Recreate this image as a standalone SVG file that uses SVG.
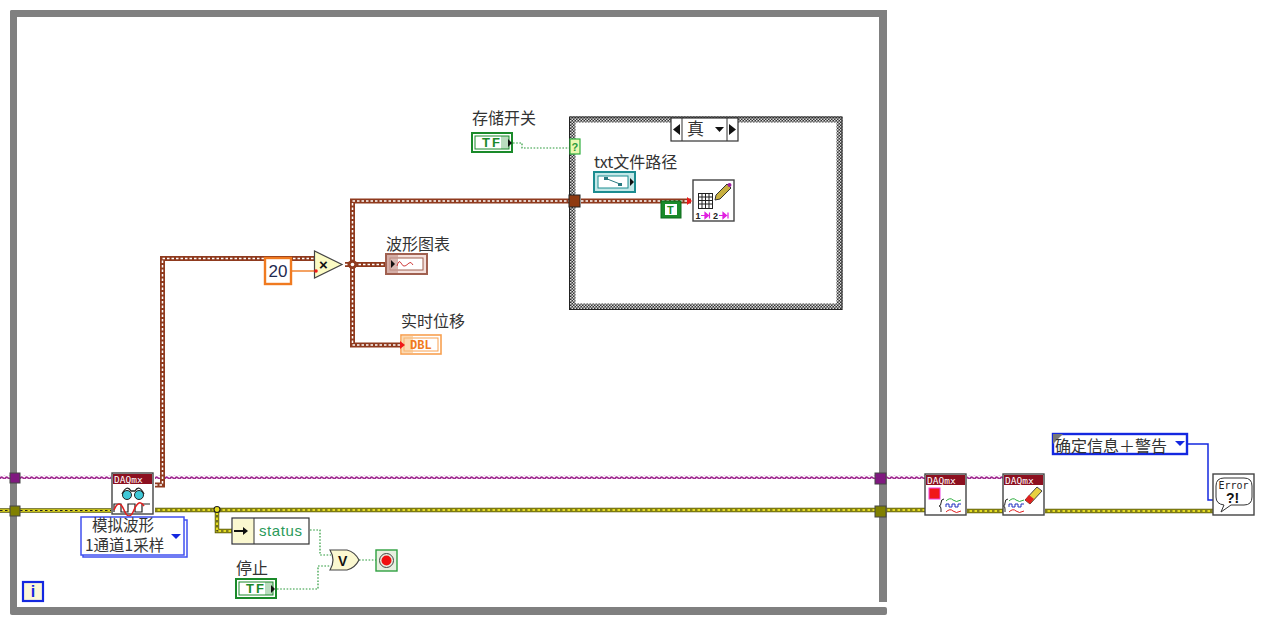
<svg xmlns="http://www.w3.org/2000/svg" width="1268" height="626" viewBox="0 0 1268 626">
<style>
text{font-family:"Noto Sans CJK SC","Liberation Sans",sans-serif;font-size:16px;fill:#333}
.w{fill:none}
.br1{stroke:#8f3a1e;stroke-width:5}
.br2{stroke:#fff;stroke-width:1.500;stroke-dasharray:2.500 2}
.ye1{stroke:#5a5a08;stroke-width:4.500}
.ye0{stroke:#e4dc20;stroke-width:2.600}
.ye2{stroke:#222;stroke-width:1.200;stroke-dasharray:2.500 2.500}
.gr{stroke:#2a9a3a;stroke-width:1.200;stroke-dasharray:1.600 1.600;fill:none}
.or{stroke:#f07a20;stroke-width:1.400;fill:none}
.bl{stroke:#1428e0;stroke-width:1.500;fill:none}
.ic{fill:#fff;stroke:#444;stroke-width:1.400}
.ban{fill:#8c1020}
.dq{font-family:"DejaVu Sans Mono","Liberation Mono",monospace;font-size:9.500px;fill:#fff}
.tft{font-family:"Liberation Sans",sans-serif;font-size:13px;font-weight:bold;fill:#1a8a2a;letter-spacing:2px}
.tri{fill:#111}
.rd{stroke:#e02020;stroke-width:1;fill:none}
.gn{stroke:#30b040;stroke-width:1;fill:none}
.bu{stroke:#2030c0;stroke-width:1;fill:none}
</style>
<defs>
<pattern id="wp" width="5" height="4" patternUnits="userSpaceOnUse"><path d="M0 2.800 Q1.250 0.200 2.500 1.500 T5 2.200" fill="none" stroke="#a02890" stroke-width="1.800"/></pattern>
<pattern id="wt" width="5" height="4" patternUnits="userSpaceOnUse"><path d="M0 2.800 Q1.250 0.200 2.500 1.500 T5 2.200" fill="none" stroke="#1c8c90" stroke-width="1.800"/></pattern>
<pattern id="cb" width="3" height="3" patternUnits="userSpaceOnUse"><rect width="3" height="3" fill="#333"/><rect width="1.500" height="1.500" fill="#ddd"/><rect x="1.500" y="1.500" width="1.500" height="1.500" fill="#ddd"/></pattern>
</defs>
<rect width="1268" height="626" fill="#fff"/>

<g id="while-loop">
<rect x="10" y="10" width="876" height="7" rx="2" fill="#808080"/>
<rect x="10" y="10" width="7" height="604" rx="2" fill="#808080"/>
<rect x="879" y="10" width="8" height="592" fill="#808080"/>
<rect x="10" y="607" width="877" height="8" rx="2" fill="#808080"/>
</g>

<g id="connectors">
<rect x="0" y="475" width="111" height="4" fill="url(#wp)"/>
<rect x="155" y="475" width="770" height="4" fill="url(#wp)"/>
<rect x="967" y="475" width="36" height="4" fill="url(#wp)"/>
<path class="w ye1" d="M0 510.500H111M155 510H925M967 511H1003M1045 511H1213M217 510V531H233"/>
<path class="w ye0" d="M0 510.500H111M155 510H925M967 511H1003M1045 511H1213M217 510V531H233"/>
<path class="w ye2" d="M0 510.500H111M155 510H925M967 511H1003M1045 511H1213M217 510V531H233"/>
<circle cx="217" cy="509.500" r="3" fill="#e8e020" stroke="#222" stroke-width="1.200"/>

<path class="w br1" d="M155 485H162.500V258.500H314"/><path class="w br2" d="M155 485H162.500V258.500H314"/>
<path class="w br1" d="M345 264.500H386M352.500 264V201H691M352.500 264V345H401"/>
<path class="w br2" d="M345 264.500H386M352.500 264V201H691M352.500 264V345H401"/>
<path class="or" d="M291 271H316"/>
<path class="gr" d="M513 143H522V148H570"/>
<rect x="636" y="180" width="57" height="4" fill="url(#wt)"/>
<path class="gr" d="M682 209H692"/>
<path class="gr" d="M310 530H320V555H331"/>
<path class="gr" d="M277 589H318V566H331"/>
<path class="gr" d="M359 560H376"/>
<path class="bl" d="M1188 444H1208V500H1213"/>
</g>

<g id="case-structure">
<rect x="572.500" y="119.500" width="267" height="187" fill="#fff" stroke="url(#cb)" stroke-width="6"/>
<rect x="569.500" y="117" width="272.500" height="192.500" fill="none" stroke="#222" stroke-width="1"/>
<rect x="671" y="118" width="67" height="23" fill="#fff" stroke="#333" stroke-width="1.200"/>
<path d="M682 118V141M727 118V141" stroke="#333"/>
<path d="M680 124V135L673 129.500ZM729 124V135L736 129.500Z" fill="#111"/>
<text x="687" y="135" style="font-size:17px">真</text>
<path d="M715 127H724L719.500 132Z" fill="#111"/>
<rect x="570" y="139" width="10" height="15" fill="#eaf7b0" stroke="#30b040" stroke-width="1.200"/>
<text x="571.500" y="151" style="font-size:11px;fill:#2a9a3a;font-family:'Liberation Sans',sans-serif;font-weight:bold">?</text>
</g>
<path class="w br1" d="M581 201H691"/><path class="w br2" d="M581 201H691"/>
<rect x="569" y="195" width="11" height="12" fill="#8f3a10" stroke="#222"/>
<g id="junction"><circle cx="352.500" cy="264.500" r="4.500" fill="#8f3a1e"/><circle cx="352.500" cy="264.500" r="1.800" fill="#fff"/></g>

<g id="ctrl-save"><text x="472" y="124">存储开关</text>
<rect x="472" y="133" width="40" height="19" fill="#fff" stroke="#1a8a2a" stroke-width="2"/>
<rect x="475" y="136" width="34" height="13" fill="#fff" stroke="#1a8a2a"/>
<text class="tft" x="482" y="147">TF</text><rect x="501" y="136" width="8" height="13" fill="#1a8a2a" opacity=".3"/><path class="tri" d="M508 139V147L512 143Z"/></g>

<g id="ctrl-path"><text x="594" y="168">txt文件路径</text>
<rect x="594" y="172" width="41" height="20" fill="#c4e8e8" stroke="#1c8c90" stroke-width="2"/>
<rect x="598" y="176" width="30" height="12" fill="#fff" stroke="#1c8c90"/>
<path d="M606 178.500L620 184" stroke="#2a7a80"/><rect x="604" y="177" width="4" height="3" fill="#2a7a80"/><rect x="618" y="183" width="4" height="3" fill="#2a7a80"/>
<path class="tri" d="M630 178V186L634 182Z"/></g>

<g id="const-true"><rect x="661" y="201" width="20" height="17" fill="#1a8a2a" stroke="#0c6a1a"/><rect x="665" y="204" width="12" height="11" fill="#fff"/><text x="667" y="214" style="font-size:11px;font-weight:bold;fill:#1a8a2a;font-family:'Liberation Sans',sans-serif">T</text></g>

<g id="write-file">
<rect class="ic" x="693" y="180" width="41" height="41"/>
<rect x="698.500" y="193.500" width="14" height="15" fill="none" stroke="#222" stroke-width="1"/>
<path d="M702 194V208M705.500 194V208M709 194V208M699 197H712M699 200.500H712M699 204H712" stroke="#222" stroke-width="1"/>
<path d="M716 195L727 184L731 188L720 199L715 200Z" fill="#c8b040" stroke="#333"/><circle cx="729.500" cy="185" r="2" fill="#a020a0"/>
<path d="M687 197V205L692 201Z" fill="#f01818"/>
<text x="695.500" y="219" style="font-size:9px;font-weight:bold;fill:#222;font-family:'Liberation Sans',sans-serif">1</text>
<path d="M701 215.500H707M705 212.500V218.500L708.500 215.500ZM709.500 212.500V218.500" stroke="#e020e0" stroke-width="1.200" fill="#e020e0"/>
<text x="713" y="219" style="font-size:9px;font-weight:bold;fill:#222;font-family:'Liberation Sans',sans-serif">2</text>
<path d="M719 215.500H725M723 212.500V218.500L726.500 215.500ZM728 212.500V218.500" stroke="#e020e0" stroke-width="1.200" fill="#e020e0"/>
</g>

<g id="const-20"><rect x="265" y="258" width="26" height="26" fill="#fff" stroke="#f07a20" stroke-width="2.400"/><text x="268.500" y="277" style="font-size:17px;font-family:'Liberation Sans',sans-serif;fill:#1f2a50">20</text></g>

<g id="multiply"><path d="M314.500 251V278L342 264.500Z" fill="#fbfbc4" stroke="#444" stroke-width="1.200"/><text x="319" y="270" style="font-size:15px;font-weight:bold;fill:#111;font-family:'Liberation Sans',sans-serif">×</text><circle cx="316" cy="271" r="1.800" fill="#f01818"/></g>

<g id="chart"><text x="386" y="250">波形图表</text>
<rect x="386" y="254" width="41" height="20" fill="#f4e0dc" stroke="#a06050" stroke-width="2"/>
<rect x="390" y="258" width="33" height="12" fill="#fff" stroke="#a06050"/><rect x="387" y="255" width="11" height="18" fill="#c89890" opacity=".7"/>
<path class="tri" d="M391 260V268L395 264Z"/><path d="M397 266Q399 259 401 263T405 266T409 263T413 265" fill="none" stroke="#d04040"/></g>

<g id="indicator"><text x="401" y="327">实时位移</text>
<rect x="401" y="335" width="40" height="19" fill="#fff" stroke="#f8a050" stroke-width="1.600"/>
<rect x="404" y="338" width="34" height="13" fill="#fff" stroke="#f8a050"/>
<rect x="401" y="336" width="12" height="17" fill="#f8c080" opacity=".6"/>
<path d="M400 341V349L405 345Z" fill="#f01818"/>
<text x="410" y="349" style="font-size:12px;font-weight:bold;fill:#f07a20;font-family:'Liberation Mono',monospace">DBL</text></g>

<g id="loop-term-1"><rect x="10" y="473" width="10" height="10" fill="#801880" stroke="#444"/><rect x="875" y="473" width="11" height="11" fill="#801880" stroke="#444"/></g>
<g id="loop-term-2"><rect x="10" y="506" width="10" height="10" fill="#808000" stroke="#444"/><rect x="875" y="506" width="11" height="11" fill="#808000" stroke="#444"/></g>

<g id="daq-read">
<rect class="ic" x="112" y="473" width="41" height="41"/><rect class="ban" x="113" y="474" width="39" height="10"/><text class="dq" x="114" y="483">DAQmx</text>
<circle cx="127" cy="495" r="4.500" fill="#40c8d8" stroke="#222"/><circle cx="139" cy="495" r="4.500" fill="#40c8d8" stroke="#222"/><path d="M122 494Q127 484 131 491H135Q139 484 144 494" fill="none" stroke="#222" stroke-width="1.300"/>
<path d="M114 512V504H121V512H128V504H135V512H142V504H150" fill="none" stroke="#222" stroke-width="1.200"/>
<path d="M114 510Q119 498 124 510T134 510T144 506" fill="none" stroke="#e02020" stroke-width="1.600"/>
</g>
<g id="poly-select"><rect x="83" y="520" width="104" height="37" fill="#fff" stroke="#4050f0" stroke-width="1.500"/><rect x="81" y="517" width="103" height="38" fill="#fff" stroke="#4050f0" stroke-width="1.500"/>
<text x="92" y="531" style="font-size:15.500px">模拟波形</text><text x="85" y="551" style="font-size:15.500px">1通道1采样</text><path d="M171 534H181L176 539Z" fill="#1428e0"/></g>

<g id="unbundle"><rect x="232" y="518" width="77" height="26" fill="#fff" stroke="#333" stroke-width="1.200"/><rect x="233" y="519" width="21" height="24" fill="#fbf8d0"/><path d="M254 518V544" stroke="#333"/>
<path d="M234 531H243" stroke="#111" stroke-width="2"/><path class="tri" d="M243 527V535L248 531Z"/>
<text x="259" y="536" style="font-size:15px;letter-spacing:.6px;font-family:'Liberation Sans',sans-serif;fill:#2a9a5a">status</text></g>

<g id="ctrl-stop"><text x="236" y="574">停止</text>
<rect x="236" y="579" width="40" height="19" fill="#fff" stroke="#1a8a2a" stroke-width="2"/><rect x="239" y="582" width="34" height="13" fill="#fff" stroke="#1a8a2a"/>
<text class="tft" x="246" y="593">TF</text><rect x="265" y="582" width="8" height="13" fill="#1a8a2a" opacity=".3"/><path class="tri" d="M271 585V593L275 589Z"/></g>

<g id="or"><path d="M330 550H347Q355 552 359 560Q355 568 347 570H330Q336 560 330 550Z" fill="#fbf8d0" stroke="#444" stroke-width="1.200"/><text x="338" y="566" style="font-size:14px;font-weight:bold;fill:#111;font-family:'Liberation Sans',sans-serif">V</text></g>

<g id="stop"><rect x="376" y="550" width="21" height="21" fill="#e8f0e0" stroke="#30a040" stroke-width="1.400"/><circle cx="386.500" cy="560.500" r="7" fill="none" stroke="#444"/><circle cx="386.500" cy="560.500" r="5" fill="#f01010"/></g>

<g id="iter"><rect x="23" y="582" width="20" height="19" fill="#fbf8d8" stroke="#1428e0" stroke-width="2.200"/><text x="33" y="597" text-anchor="middle" style="font-size:16px;font-weight:bold;fill:#1428e0;font-family:'Liberation Sans',sans-serif">i</text></g>

<g id="daq-stop"><rect class="ic" x="925" y="474" width="41" height="41"/><rect class="ban" x="926" y="475" width="39" height="10"/><text class="dq" x="927" y="484">DAQmx</text>
<rect x="929" y="488" width="11" height="11" fill="#f01818" stroke="#f040e0"/>
<path d="M944 499Q941 499 941 503Q941 506 939 506Q941 506 941 509V512" fill="none" stroke="#222"/>
<path class="gn" d="M946 501Q950 497 953 500T961 500"/><path class="bu" d="M946 507V504H949V507H952V504H955V507H958V504H961"/><path class="rd" d="M946 512Q950 508 953 511T961 511"/></g>

<g id="daq-clear"><rect class="ic" x="1003" y="474" width="41" height="41"/><rect class="ban" x="1004" y="475" width="39" height="10"/><text class="dq" x="1005" y="484">DAQmx</text>
<path d="M1025 500L1037 487L1042 491L1030 504Z" fill="#e8d040" stroke="#444"/><path d="M1025 500L1029 495L1034 499L1030 504Z" fill="#e02020"/>
<path d="M1008 499Q1005 499 1005 503Q1005 506 1003.500 506Q1005 506 1005 509V512" fill="none" stroke="#222"/>
<path class="gn" d="M1009 501Q1013 497 1016 500T1024 500"/><path class="bu" d="M1009 507V504H1012V507H1015V504H1018V507H1021V504H1024"/><path class="rd" d="M1009 512Q1013 508 1016 511T1024 511"/></g>

<g id="msg-enum"><rect x="1053" y="434" width="134" height="20" fill="#fff" stroke="#1428e0" stroke-width="2.400"/><path d="M1053 434H1063L1053 444Z" fill="#777"/>
<text x="1055" y="452" style="font-size:16px">确定信息＋警告</text><path d="M1175 441H1185L1180 446Z" fill="#1428e0"/></g>

<g id="error-handler"><rect class="ic" x="1213" y="474" width="41" height="41"/>
<path d="M1224 478H1244Q1252 478 1252 486V497Q1252 505 1244 505H1231L1221 512L1224 505Q1216 504 1216 497V486Q1216 478 1224 478Z" fill="#fff" stroke="#333"/>
<text x="1218.500" y="489" style="font-size:10px;font-family:'DejaVu Sans Mono',monospace;fill:#222">Error</text>
<text x="1226" y="503" style="font-size:14px;font-weight:bold;font-family:'Liberation Sans',sans-serif;fill:#111">?!</text></g>
</svg>
